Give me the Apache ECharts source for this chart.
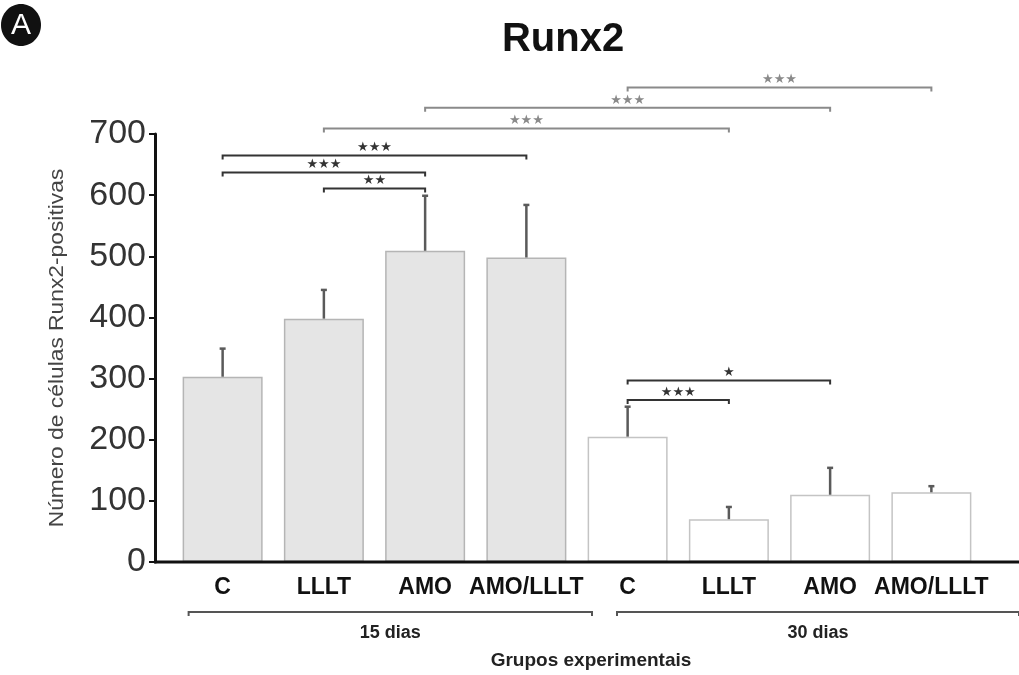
<!DOCTYPE html>
<html><head><meta charset="utf-8">
<script src="https://cdn.jsdelivr.net/npm/echarts@6/dist/echarts.min.js"></script>
<style>html,body{margin:0;padding:0;background:#fff}#c{width:1019px;height:675px}</style>
</head><body><div id="c"></div>
<script>
// ---- data ----
const groups = ['15 dias', '30 dias'];
const treatments = ['C', 'LLLT', 'AMO', 'AMO/LLLT'];
const means15 = [303, 398, 509, 498];
const means30 = [205, 70, 110, 114];
const err15 = [46, 47, 90, 86];
const err30 = [49, 20, 44, 10];
const yMin = 0, yMax = 700, yStep = 100;
// significance brackets: from index, to index, height (y units)
const sigFrom  = [4, 2, 1, 0, 0, 1, 4, 4];
const sigTo    = [7, 6, 5, 3, 2, 2, 6, 5];
const sigLevel = [776, 743, 709, 665, 637, 611, 297, 265];
const sigLabel = ['★★★', '★★★', '★★★', '★★★', '★★★', '★★', '★', '★★★'];
const sigGray  = [true, true, true, false, false, false, false, false];
const xTitle = 'Grupos experimentais';
const yTitle = 'Número de células Runx2-positivas';
const chartTitle = 'Runx2';

// ---- build ----
const categories = [];
groups.forEach((g, gi) => treatments.forEach(t => categories.push(gi + '|' + t)));
const means = means15.concat(means30);
const errs = err15.concat(err30);
const style15 = { color: '#e5e5e5', borderColor: '#b5b5b5', borderWidth: 1.5 };
const style30 = { color: '#ffffff', borderColor: '#c4c4c4', borderWidth: 1.5 };
const barData = means.map((v, i) => ({ value: v, itemStyle: i < 4 ? style15 : style30 }));
const errData = means.map((v, i) => [i, v, v + errs[i]]);
const sigData = sigFrom.map((f, i) => [f, sigTo[i], sigLevel[i]]);

const chart = echarts.init(document.getElementById('c'), null, { renderer: 'canvas' });
const FONT = '"Liberation Sans", Arial, sans-serif';

chart.setOption({
  animation: false,
  backgroundColor: '#fff',
  title: { text: chartTitle, left: 558, top: 15, textAlign: 'center',
    textStyle: { fontFamily: FONT, fontSize: 40, fontWeight: 'bold', color: '#111' } },
  grid: { left: 172, right: 37, top: 134, bottom: 113, containLabel: false },
  xAxis: {
    type: 'category', data: categories,
    axisLine: { show: false }, axisTick: { show: false },
    axisLabel: { interval: 0, formatter: v => v.split('|')[1], fontFamily: FONT, fontSize: 23, fontWeight: 'bold', color: '#111', margin: 14 }
  },
  yAxis: {
    type: 'value', min: yMin, max: yMax, interval: yStep, offset: 17,
    axisLine: { show: true, lineStyle: { color: '#111', width: 3 } },
    axisTick: { show: true, length: 6, lineStyle: { color: '#111', width: 2 } },
    axisLabel: { fontFamily: FONT, fontSize: 34, color: '#333', margin: 9 },
    splitLine: { show: false }
  },
  series: [
    { type: 'bar', data: barData, barWidth: 80, z: 2 },
    { type: 'custom', data: errData, encode: { x: 0, y: [1, 2] }, z: 3,
      renderItem: (params, api) => {
        const a = api.coord([api.value(0), api.value(1)]);
        const b = api.coord([api.value(0), api.value(2)]);
        return { type: 'group', children: [
          { type: 'line', shape: { x1: a[0], y1: a[1], x2: b[0], y2: b[1] }, style: { stroke: '#5a5a5a', lineWidth: 2.5 } },
          { type: 'line', shape: { x1: b[0] - 3, y1: b[1], x2: b[0] + 3, y2: b[1] }, style: { stroke: '#5a5a5a', lineWidth: 2.5 } }
        ]};
      } },
    { type: 'custom', data: sigData, encode: { x: [0, 1], y: 2 }, clip: false, z: 4,
      renderItem: (params, api) => {
        const i = params.dataIndex;
        const a = api.coord([api.value(0), api.value(2)]);
        const b = api.coord([api.value(1), api.value(2)]);
        const col = sigGray[i] ? '#8a8a8a' : '#333';
        return { type: 'group', children: [
          { type: 'polyline', shape: { points: [[a[0], a[1] + 4], [a[0], a[1]], [b[0], b[1]], [b[0], b[1] + 4]] },
            style: { stroke: col, lineWidth: 2, fill: null } },
          { type: 'text', style: { text: sigLabel[i], x: (a[0] + b[0]) / 2, y: a[1] - 1, align: 'center', verticalAlign: 'bottom',
            fill: col, font: '13px "DejaVu Sans"' } }
        ]};
      } }
  ]
});

// decorations computed from axes
const y0 = chart.convertToPixel({ yAxisIndex: 0 }, 0);
const cx = categories.map((c, i) => chart.convertToPixel({ xAxisIndex: 0 }, i));
const mid = (cx[3] + cx[4]) / 2;
const bY = 612;
const g1 = [cx[0] - 34, mid + 15];
const g2 = [mid + 40, 1019];
const bracket = (x1, x2) => ({ type: 'polyline', shape: { points: [[x1, bY + 4], [x1, bY], [x2, bY], [x2, bY + 4]] },
  style: { stroke: '#555', lineWidth: 2, fill: null } });
chart.setOption({ graphic: [
  { type: 'line', shape: { x1: 154, y1: y0, x2: 1019, y2: y0 }, style: { stroke: '#111', lineWidth: 3 }, z: 10 },
  bracket(g1[0], g1[1]), bracket(g2[0], g2[1]),
  { type: 'text', style: { text: groups[0], x: (g1[0] + g1[1]) / 2, y: 633, align: 'center', verticalAlign: 'middle',
    font: 'bold 18px "Liberation Sans"', fill: '#222' } },
  { type: 'text', style: { text: groups[1], x: (g2[0] + g2[1]) / 2, y: 633, align: 'center', verticalAlign: 'middle',
    font: 'bold 18px "Liberation Sans"', fill: '#222' } },
  { type: 'text', style: { text: xTitle, x: 591, y: 661, align: 'center', verticalAlign: 'middle',
    font: 'bold 19px "Liberation Sans"', fill: '#222' } },
  { type: 'text', x: 57, y: 348, rotation: Math.PI / 2, scaleX: 1.14,
    style: { text: yTitle, x: 0, y: 0, align: 'center', verticalAlign: 'middle', font: '20px "Liberation Sans"', fill: '#444' } },
  { type: 'ellipse', shape: { cx: 21, cy: 25, rx: 20, ry: 21 }, style: { fill: '#111' } },
  { type: 'text', style: { text: 'A', x: 21, y: 26, align: 'center', verticalAlign: 'middle', font: '30px "Liberation Sans"', fill: '#fff' } }
]});
</script></body></html>
